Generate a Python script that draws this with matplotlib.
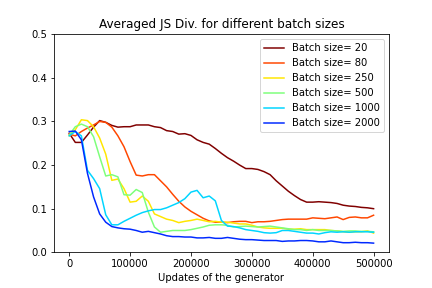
import matplotlib
matplotlib.use("Agg")
import matplotlib.pyplot as plt
import numpy as np

updates = [k * 10000 for k in range(51)]

batch_sizes = [20, 80, 250, 500, 1000, 2000]

js_20 = [0.273, 0.252, 0.252, 0.269, 0.287, 0.302, 0.298, 0.291, 0.287, 0.288,
         0.288, 0.292, 0.292, 0.292, 0.288, 0.286, 0.279, 0.277, 0.271, 0.272,
         0.268, 0.258, 0.252, 0.248, 0.238, 0.227, 0.217, 0.209, 0.200, 0.192,
         0.192, 0.190, 0.185, 0.178, 0.164, 0.152, 0.140, 0.130, 0.121, 0.115,
         0.115, 0.116, 0.115, 0.114, 0.112, 0.108, 0.106, 0.105, 0.103, 0.102,
         0.100]
js_80 = [0.271, 0.267, 0.277, 0.285, 0.292, 0.300, 0.298, 0.287, 0.267, 0.242,
         0.208, 0.177, 0.175, 0.178, 0.178, 0.164, 0.150, 0.133, 0.117, 0.104,
         0.094, 0.086, 0.078, 0.072, 0.069, 0.069, 0.068, 0.070, 0.071, 0.071,
         0.068, 0.070, 0.070, 0.071, 0.073, 0.075, 0.076, 0.076, 0.076, 0.076,
         0.079, 0.078, 0.077, 0.079, 0.081, 0.075, 0.080, 0.081, 0.079, 0.079,
         0.085]
js_250 = [0.267, 0.281, 0.304, 0.302, 0.288, 0.262, 0.225, 0.165, 0.168, 0.146,
          0.115, 0.117, 0.129, 0.117, 0.088, 0.082, 0.076, 0.073, 0.068, 0.071,
          0.073, 0.076, 0.073, 0.070, 0.071, 0.069, 0.069, 0.067, 0.065, 0.065,
          0.062, 0.058, 0.056, 0.055, 0.055, 0.055, 0.053, 0.053, 0.054, 0.052,
          0.052, 0.052, 0.052, 0.050, 0.049, 0.047, 0.046, 0.047, 0.047, 0.049,
          0.044]
js_500 = [0.269, 0.288, 0.294, 0.288, 0.265, 0.219, 0.175, 0.178, 0.173, 0.132,
          0.131, 0.144, 0.137, 0.092, 0.058, 0.046, 0.048, 0.050, 0.050, 0.050,
          0.052, 0.055, 0.058, 0.062, 0.063, 0.063, 0.062, 0.058, 0.059, 0.060,
          0.059, 0.058, 0.059, 0.060, 0.058, 0.056, 0.054, 0.052, 0.052, 0.050,
          0.052, 0.050, 0.050, 0.050, 0.049, 0.048, 0.049, 0.049, 0.048, 0.048,
          0.047]
js_1000 = [0.267, 0.277, 0.267, 0.188, 0.169, 0.146, 0.086, 0.063, 0.063, 0.071,
           0.078, 0.085, 0.091, 0.095, 0.098, 0.098, 0.102, 0.108, 0.114, 0.123,
           0.138, 0.142, 0.125, 0.129, 0.118, 0.073, 0.060, 0.059, 0.056, 0.052,
           0.050, 0.048, 0.045, 0.044, 0.045, 0.050, 0.050, 0.048, 0.046, 0.044,
           0.044, 0.042, 0.045, 0.047, 0.046, 0.047, 0.046, 0.047, 0.047, 0.047,
           0.046]
js_2000 = [0.277, 0.278, 0.258, 0.181, 0.127, 0.088, 0.069, 0.059, 0.056, 0.054,
           0.053, 0.050, 0.046, 0.048, 0.045, 0.042, 0.038, 0.036, 0.036, 0.035,
           0.035, 0.033, 0.033, 0.034, 0.032, 0.032, 0.034, 0.032, 0.030, 0.029,
           0.029, 0.028, 0.027, 0.027, 0.027, 0.025, 0.026, 0.026, 0.027, 0.027,
           0.026, 0.024, 0.024, 0.026, 0.024, 0.022, 0.022, 0.023, 0.022, 0.022,
           0.021]

series = [js_20, js_80, js_250, js_500, js_1000, js_2000]

fig = plt.figure(figsize=(6, 4), dpi=72)
fig.subplots_adjust(bottom=0.124, top=0.881)
colors = plt.cm.jet(np.linspace(1, 1 / 6, len(batch_sizes)))
for bs, vals, c in zip(batch_sizes, series, colors):
    plt.plot(updates, vals, color=c, label=f"Batch size= {bs}")

plt.title("Averaged JS Div. for different batch sizes")
plt.xlabel("Updates of the generator")
plt.ylim(0, 0.5)
plt.legend(loc="upper right")
plt.savefig("out.png", dpi=72)
